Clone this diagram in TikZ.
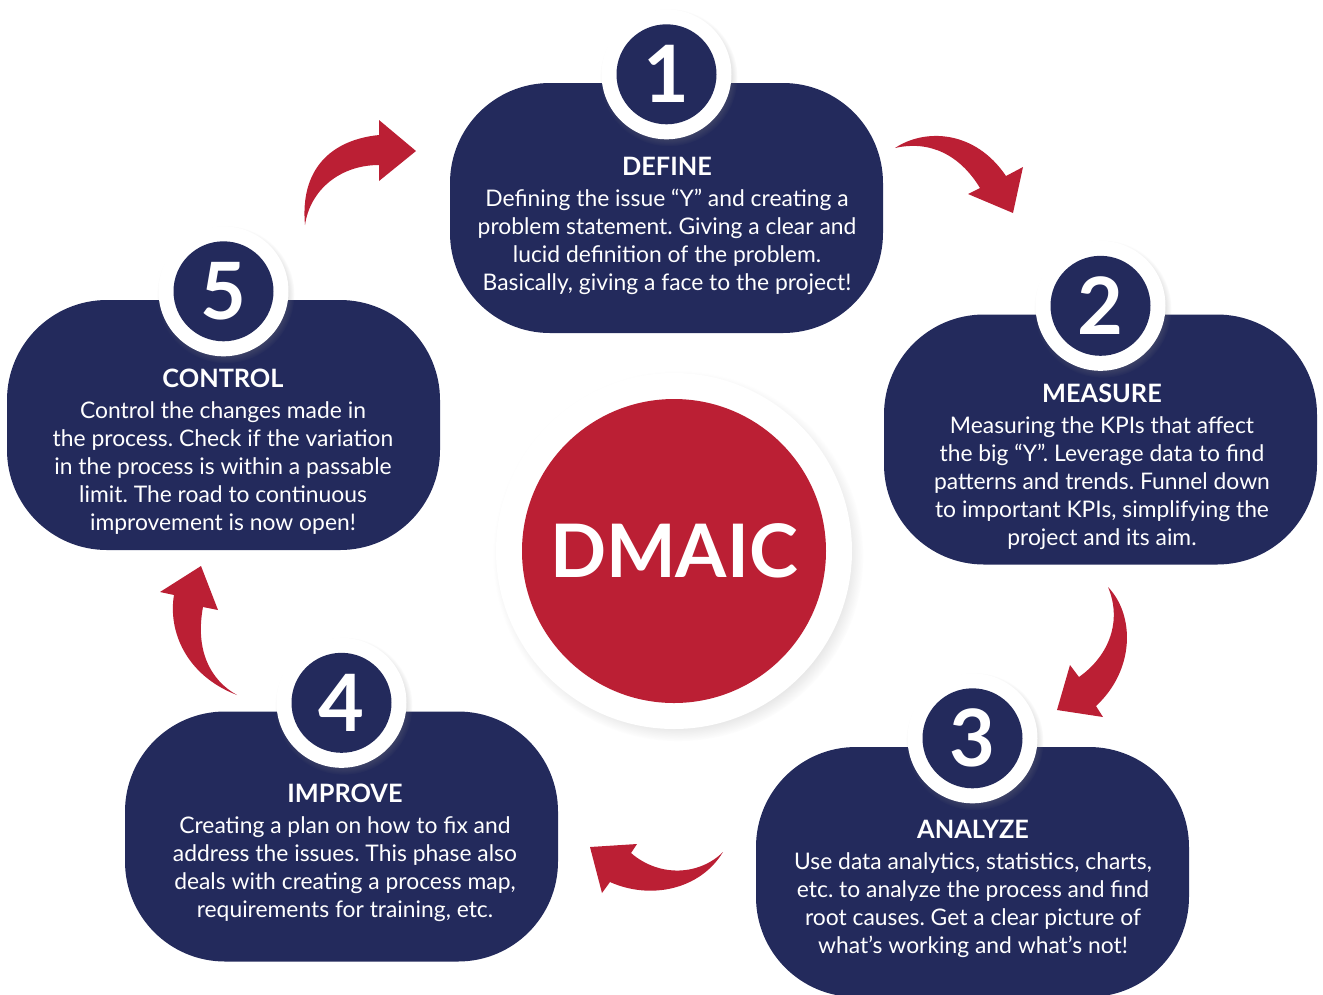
\documentclass[tikz,border=0pt]{standalone}
\usepackage{fontspec}
\setmainfont{Lato}
\usetikzlibrary{shadows}
\definecolor{navy}{RGB}{35,42,92}
\definecolor{dmred}{RGB}{187,31,52}
\tikzset{
  phase/.style={fill=navy, rounded corners=10mm, minimum width=43.3mm, minimum height=25mm, inner sep=0pt},
  ring/.style={circle, fill=white, minimum size=13mm, inner sep=0pt,
    circular drop shadow={shadow scale=1.06, shadow xshift=0.2mm, shadow yshift=-0.3mm, opacity=0.35}},
  num/.style={circle, fill=navy, text=white, minimum size=10mm, inner sep=0pt, font=\bfseries\fontsize{22.5}{24}\selectfont},
  phasetext/.style={text=white, align=center, inner sep=0pt, anchor=base, font=\frenchspacing\fontsize{6.5}{7.9}\selectfont},
  bent/.style={fill=dmred},
}
\newcommand{\phasehead}[1]{{\bfseries\fontsize{7.2}{8.2}\selectfont #1}\\[1pt]}
\begin{document}
\begin{tikzpicture}[x=0.1mm, y=-0.1mm]
    \useasboundingbox (0,0) rectangle (1323,994);
    \clip (0,0) rectangle (1323,994);

    \node[phase] (define) at (666.5,208) {};
    \node[phase] (measure) at (1100.5,439.5) {};
    \node[phase] (analyze) at (972.5,872) {};
    \node[phase] (improve) at (341.5,836.5) {};
    \node[phase] (control) at (223.5,425) {};

    \node[ring] (r1) at ([yshift=0.8mm]define.north) {};
    \node[num] (n1) at (r1) {1};
    \node[ring] (r2) at ([yshift=0.8mm]measure.north) {};
    \node[num] (n2) at (r2) {2};
    \node[ring] (r3) at ([yshift=0.8mm]analyze.north) {};
    \node[num] (n3) at (r3) {3};
    \node[ring] (r4) at ([yshift=0.8mm]improve.north) {};
    \node[num] (n4) at (r4) {4};
    \node[ring] (r5) at ([yshift=0.8mm]control.north) {};
    \node[num] (n5) at (r5) {5};

    % anchor base = last line
    \node[phasetext] (tdefine) at (667,290) {\phasehead{DEFINE}
      Defining the issue “Y” and creating a\\ problem statement. Giving a clear and\\
      lucid definition of the problem.\\ Basically, giving a face to the project!};
    \node[phasetext] (tmeasure) at (1102,545) {\phasehead{MEASURE}
      Measuring the KPIs that affect\\ the big “Y”. Leverage data to find\\
      patterns and trends. Funnel down\\ to important KPIs, simplifying the\\
      project and its aim.};
    \node[phasetext] (tanalyze) at (973,953) {\phasehead{ANALYZE}
      Use data analytics, statistics, charts,\\ etc. to analyze the process and find\\
      root causes. Get a clear picture of\\ what’s working and what’s not!};
    \node[phasetext] (timprove) at (345,917) {\phasehead{IMPROVE}
      Creating a plan on how to fix and\\ address the issues. This phase also\\
      deals with creating a process map,\\ requirements for training, etc.};
    \node[phasetext] (tcontrol) at (223,530) {\phasehead{CONTROL}
      Control the changes made in\\ the process. Check if the variation\\
      in the process is within a passable\\ limit. The road to continuous\\
      improvement is now open!};

    \node[circle, fill=white, minimum size=35.6mm, inner sep=0pt,
      circular drop shadow={shadow scale=1.04, shadow xshift=0.4mm, shadow yshift=-0.5mm, opacity=0.35}] (hub) at (674,551) {};
    \node[circle, fill=dmred, text=white, minimum size=30.4mm, inner sep=0pt,
      font=\bfseries\fontsize{21}{24}\selectfont] (core) at (hub) {DMAIC};

    \fill[bent] (895,148) .. controls (925,128) and (975,130) .. (1006,176) -- (1023,167) -- (1013,213)
      -- (968,194) -- (980,188) .. controls (960,155) and (930,140) .. cycle;
    \fill[bent] (1108,587) .. controls (1135,615) and (1135,670) .. (1096,706) -- (1103,717) -- (1057,710)
      -- (1070,665) -- (1079,677) .. controls (1110,655) and (1122,620) .. cycle;
    \fill[bent] (723,852) .. controls (700,890) and (650,900) .. (610,882) -- (602,893) -- (590,847)
      -- (637,844) -- (631,853) .. controls (660,878) and (700,875) .. cycle;
    \fill[bent] (237,695) .. controls (185,675) and (168,630) .. (174,595) -- (160,592) -- (201,566)
      -- (218,610) -- (203,607) .. controls (195,650) and (210,680) .. cycle;
    \fill[bent] (305,225) .. controls (300,170) and (330,140) .. (379,135) -- (379,120) -- (416,151)
      -- (379,181) -- (379,165) .. controls (340,165) and (310,190) .. cycle;
\end{tikzpicture}
\end{document}
